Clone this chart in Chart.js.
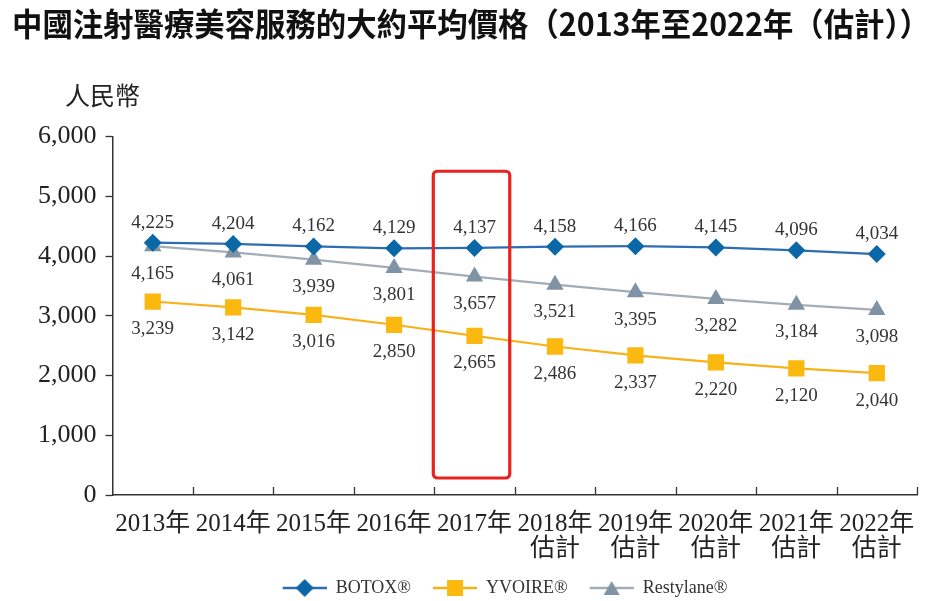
<!DOCTYPE html>
<html>
<head>
<meta charset="utf-8">
<script src="https://cdn.jsdelivr.net/npm/chart.js@4.4.1/dist/chart.umd.min.js"></script>
<style>
  html, body { margin: 0; padding: 0; background: #fff; }
  #wrap { width: 936px; height: 601px; }
</style>
</head>
<body>
<div id="wrap"><canvas id="chart"></canvas></div>
<script>
// ===== Dados =====
const title = '中國注射醫療美容服務的大約平均價格（2013年至2022年（估計））';
const years = [['2013年'], ['2014年'], ['2015年'], ['2016年'], ['2017年'],
  ['2018年', '估計'], ['2019年', '估計'], ['2020年', '估計'], ['2021年', '估計'], ['2022年', '估計']];
const botox = [4225, 4204, 4162, 4129, 4137, 4158, 4166, 4145, 4096, 4034];
const yvoire = [3239, 3142, 3016, 2850, 2665, 2486, 2337, 2220, 2120, 2040];
const restylane = [4165, 4061, 3939, 3801, 3657, 3521, 3395, 3282, 3184, 3098];
const yTicks = [0, 1000, 2000, 3000, 4000, 5000, 6000];
const highlightIndex = 4; // 2017

const SERIF = '"Liberation Serif", "Noto Sans CJK TC", serif';
const fmt = v => v.toLocaleString('en-US');

// Marcadores da legenda: espaço à esquerda + linha + símbolo
function legendIcon(color, lineColor, shape) {
  const c = document.createElement('canvas');
  c.width = 66; c.height = 20;
  const g = c.getContext('2d');
  g.translate(22, 0);
  g.strokeStyle = lineColor; g.lineWidth = 2.5;
  g.beginPath(); g.moveTo(0, 10); g.lineTo(44, 10); g.stroke();
  g.fillStyle = color;
  g.beginPath();
  if (shape === 'diamond') {
    g.moveTo(22, 1); g.lineTo(31, 10); g.lineTo(22, 19); g.lineTo(13, 10);
  } else if (shape === 'square') {
    g.rect(14, 2, 16, 16);
  } else {
    g.moveTo(22, 3); g.lineTo(30, 17); g.lineTo(14, 17);
  }
  g.closePath(); g.fill();
  return c;
}

// Rótulos de valores
const valueLabels = {
  id: 'valueLabels',
  afterDatasetsDraw(chart) {
    const ctx = chart.ctx;
    ctx.save();
    ctx.font = '19px ' + SERIF;
    ctx.fillStyle = '#333';
    ctx.textAlign = 'center';
    ctx.textBaseline = 'middle';
    chart.data.datasets.forEach((ds, i) => {
      chart.getDatasetMeta(i).data.forEach((pt, j) => {
        ctx.fillText(fmt(ds.data[j]), pt.x, pt.y + ds.labelOffset);
      });
    });
    ctx.restore();
  }
};

// Título, marcas do eixo x, caixa vermelha e unidade
const extras = {
  id: 'extras',
  afterLayout(chart) {
    // legenda um pouco à direita, como no original
    chart.legend.left += 21;
    chart.legend.right += 21;
  },
  afterDraw(chart) {
    const ctx = chart.ctx;
    const x = chart.scales.x, y = chart.scales.y;
    const step = (x.right - x.left) / years.length;
    ctx.save();

    // título (mais largo que a área do gráfico)
    ctx.fillStyle = '#111';
    ctx.font = 'bold 32px "Noto Sans CJK TC", sans-serif';
    ctx.textAlign = 'center';
    ctx.textBaseline = 'middle';
    ctx.fillText(title, 471, 24, 918);

    ctx.strokeStyle = '#333';
    ctx.lineWidth = 1.3;
    ctx.beginPath();
    for (let i = 1; i <= years.length; i++) {
      const px = Math.round(x.left + i * step) + 0.5;
      ctx.moveTo(px, y.bottom);
      ctx.lineTo(px, y.bottom - 8);
    }
    ctx.stroke();

    // caixa de destaque do ano 2017
    const cx = x.getPixelForValue(highlightIndex) - 3;
    const top = y.getPixelForValue(5420), bottom = y.getPixelForValue(285);
    ctx.strokeStyle = '#e8231f';
    ctx.lineWidth = 3.2;
    ctx.beginPath();
    ctx.roundRect(cx - step / 2 + 2, top, step - 4, bottom - top, 4);
    ctx.stroke();

    // unidade
    ctx.fillStyle = '#222';
    ctx.font = '25px "Noto Sans CJK TC", sans-serif';
    ctx.textAlign = 'left';
    ctx.fillText('人民幣', 65, 95);
    ctx.restore();
  }
};

new Chart(document.getElementById('chart'), {
  type: 'line',
  data: {
    labels: years,
    datasets: [
      { label: 'BOTOX®', data: botox, borderColor: '#2f6db3', backgroundColor: '#0b68a6',
        pointStyle: 'rectRot', pointRadius: 9, labelOffset: -20,
        legendIcon: legendIcon('#0b68a6', '#2f6db3', 'diamond') },
      { label: 'YVOIRE®', data: yvoire, borderColor: '#f7b21b', backgroundColor: '#fbb80f',
        pointStyle: 'rect', pointRadius: 11.5, labelOffset: 27.5,
        legendIcon: legendIcon('#fbb80f', '#f7b21b', 'square') },
      { label: 'Restylane®', data: restylane, borderColor: '#a3adb8', backgroundColor: '#7f93a5',
        pointStyle: 'triangle', pointRadius: 10, labelOffset: 27.5,
        legendIcon: legendIcon('#7f93a5', '#a3adb8', 'triangle') }
    ].map(ds => Object.assign({ borderWidth: 2.2, pointBorderWidth: 0, pointHoverRadius: ds.pointRadius, tension: 0 }, ds))
  },
  options: {
    responsive: true,
    maintainAspectRatio: false,
    animation: false,
    layout: { padding: { left: 29, right: 19, top: 136.6, bottom: -6 } },
    plugins: {
      title: { display: false },
      legend: {
        position: 'bottom',
        labels: {
          usePointStyle: true,
          pointStyleWidth: 66,
          padding: 0,
          color: '#333',
          font: { family: SERIF, size: 18 },
          generateLabels: chart => chart.data.datasets.map((ds, i) => ({
            text: ds.label, pointStyle: ds.legendIcon, fontColor: '#333',
            strokeStyle: 'transparent', fillStyle: 'transparent', lineWidth: 0, datasetIndex: i
          }))
        }
      },
      tooltip: { enabled: false }
    },
    scales: {
      x: {
        offset: true,
        grid: { display: false, drawTicks: false },
        border: { color: '#333', width: 1.5 },
        ticks: { color: '#222', font: { family: SERIF, size: 25, lineHeight: 1.0 }, padding: 17, maxRotation: 0, autoSkip: false }
      },
      y: {
        min: 0, max: 6000,
        afterBuildTicks: s => { s.ticks = yTicks.map(v => ({ value: v })); },
        grid: { drawOnChartArea: false, tickLength: 7, color: '#333', tickWidth: 1.3 },
        border: { color: '#333', width: 1.5 },
        ticks: { color: '#222', font: { family: SERIF, size: 26 }, padding: 9, callback: v => fmt(v) }
      }
    }
  },
  plugins: [valueLabels, extras]
});
</script>
</body>
</html>
